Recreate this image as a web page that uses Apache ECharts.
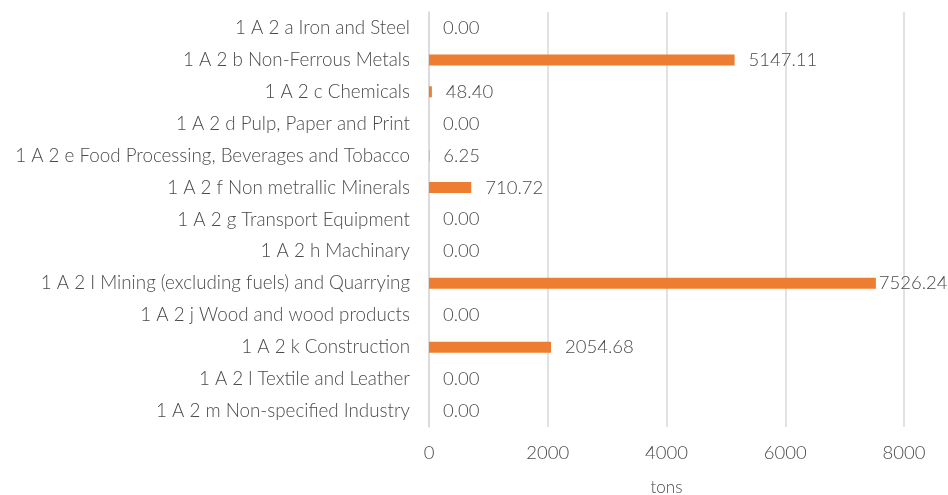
<!DOCTYPE html>
<html><head><meta charset="utf-8">
<script src="https://cdn.jsdelivr.net/npm/echarts@6/dist/echarts.min.js"></script>
<style>html,body{margin:0;padding:0;background:#fff}#c{width:948px;height:495px}</style>
</head><body><div id="c"></div>
<script>
const categories = [
  "1 A 2 a Iron and Steel",
  "1 A 2 b Non-Ferrous Metals",
  "1 A 2 c Chemicals",
  "1 A 2 d Pulp, Paper and Print",
  "1 A 2 e Food Processing, Beverages and Tobacco",
  "1 A 2 f Non metrallic Minerals",
  "1 A 2 g Transport Equipment",
  "1 A 2 h Machinary",
  "1 A 2 I Mining (excluding fuels) and Quarrying",
  "1 A 2 j Wood and wood products",
  "1 A 2 k Construction",
  "1 A 2 l Textile and Leather",
  "1 A 2 m Non-specified Industry"
];
const values = [0, 5147.11, 48.40, 0, 6.25, 710.72, 0, 0, 7526.24, 0, 2054.68, 0, 0];
const axisName = "tons";
const xMin = 0, xMax = 8000, xStep = 2000;

const FONT = "Lato";
const TXT = "#4a4a4a";
const maxVal = Math.max(...values);
const seriesData = values.map(v => v === maxVal ? {value: v, label: {distance: 3}} : v);

const chart = echarts.init(document.getElementById('c'), null, {renderer: 'canvas'});
chart.setOption({
  animation: false,
  grid: {left: 429, right: 44, top: 12, bottom: 68, containLabel: false, outerBoundsMode: 'none'},
  xAxis: {
    type: 'value', min: xMin, max: xMax, interval: xStep,
    name: axisName, nameLocation: 'middle', nameGap: 52,
    nameTextStyle: {color: TXT, fontFamily: FONT, fontWeight: 300, fontSize: 17},
    axisLine: {show: false}, axisTick: {show: false},
    axisLabel: {color: TXT, fontFamily: FONT, fontWeight: 300, fontSize: 18.5, margin: 17,
      formatter: v => String(v)},
    splitLine: {lineStyle: {color: '#D9D9D9', width: 1.5}}
  },
  yAxis: {
    type: 'category', data: categories, inverse: true,
    axisLine: {show: true, lineStyle: {color: '#D9D9D9', width: 1.5}},
    axisTick: {show: false},
    axisLabel: {color: TXT, fontFamily: FONT, fontWeight: 300, fontSize: 18.8, margin: 19}
  },
  series: [{
    type: 'bar', data: seriesData, barWidth: 11,
    itemStyle: {color: '#ED7D31'},
    label: {show: true, position: 'right', distance: 14, color: TXT, fontFamily: FONT, fontWeight: 300, fontSize: 18.5,
      formatter: p => p.value.toFixed(2)}
  }]
});
</script></body></html>
